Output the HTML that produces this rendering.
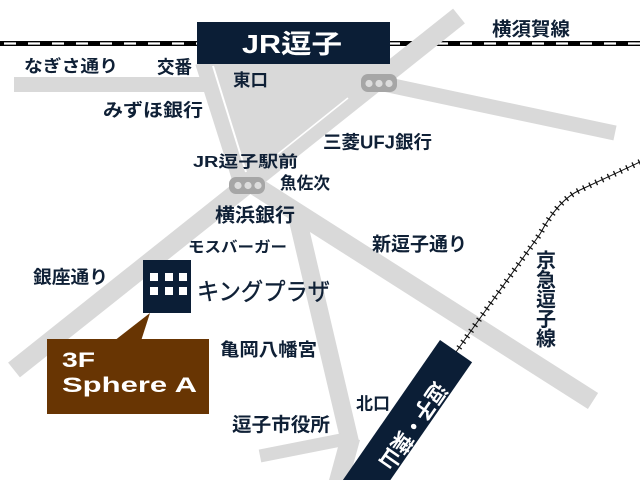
<!DOCTYPE html>
<html><head><meta charset="utf-8"><style>
html,body{margin:0;padding:0;background:#fff;width:640px;height:480px;overflow:hidden;}
svg{display:block;}
text{font-family:"Liberation Sans","Noto Sans CJK JP",sans-serif;}
.l{fill:#0f2036;font-weight:bold;}
</style></head><body>
<svg width="640" height="480" viewBox="0 0 640 480" xmlns="http://www.w3.org/2000/svg">
<defs><clipPath id="c"><rect width="640" height="480"/></clipPath></defs>
<g clip-path="url(#c)">
<rect width="640" height="480" fill="#fff"/>
<!-- JR rail -->
<line x1="0" y1="43.5" x2="640" y2="43.5" stroke="#000" stroke-width="5"/>
<line x1="0" y1="43.5" x2="640" y2="43.5" stroke="#fff" stroke-width="2.2" stroke-dasharray="12 12" stroke-dashoffset="-4"/>
<!-- roads -->
<g stroke="#d9d9d9" fill="none" stroke-linecap="butt">
<polygon points="205,64 404,64 250,190 236,185" fill="#d9d9d9" stroke="none"/>
<rect x="14" y="77" width="196" height="15" fill="#d9d9d9" stroke="none"/>
<line x1="204" y1="62" x2="244" y2="188" stroke-width="18"/>
<line x1="459" y1="16" x2="14" y2="370" stroke-width="19"/>
<line x1="379" y1="83" x2="615" y2="133" stroke-width="15"/>
<line x1="246" y1="180" x2="593" y2="401" stroke-width="19"/>
<line x1="296" y1="212" x2="350" y2="442" stroke-width="18"/>
<polygon points="341,436 360,440 349,480 329,480" fill="#d9d9d9" stroke="none"/>
<line x1="351" y1="438" x2="260" y2="456" stroke-width="13"/>
</g>
<line x1="213" y1="66" x2="246" y2="172" stroke="#fff" stroke-width="2"/>
<line x1="348" y1="98" x2="278" y2="154" stroke="#fff" stroke-width="1.6"/>
<!-- signals -->
<rect x="361" y="74" width="36" height="18" rx="7" fill="#a6a6a6"/>
<circle cx="369" cy="83.5" r="3.6" fill="#dcdcdc"/>
<circle cx="379" cy="83.5" r="3.6" fill="#dcdcdc"/>
<circle cx="389" cy="83.5" r="3.6" fill="#dcdcdc"/>
<rect x="229" y="177" width="36" height="17" rx="7" fill="#a6a6a6"/>
<circle cx="238" cy="185.5" r="3.6" fill="#dcdcdc"/>
<circle cx="248" cy="185.5" r="3.6" fill="#dcdcdc"/>
<circle cx="258" cy="185.5" r="3.6" fill="#dcdcdc"/>
<!-- Keikyu rail -->
<path d="M640,162 L580,190 Q558,200 540,234 L456,352" fill="none" stroke="#111" stroke-width="1"/>
<path d="M640,162 L580,190 Q558,200 540,234 L456,352" fill="none" stroke="#111" stroke-width="6" stroke-dasharray="1.3 5.5"/>
<!-- JR box -->
<rect x="197" y="22" width="193" height="42" fill="#0b1e36"/>
<text x="242" y="53" font-size="26" font-weight="bold" fill="#fff" textLength="100" lengthAdjust="spacingAndGlyphs">JR逗子</text>
<!-- Keikyu station box -->
<polygon points="440,340 472.1,362.2 390.4,480 342.9,480" fill="#0b1e36"/>
<text transform="translate(413,426) rotate(124.7)" text-anchor="middle" dominant-baseline="central" font-size="22" font-weight="bold" fill="#fff" textLength="100" lengthAdjust="spacingAndGlyphs">逗子・葉山</text>
<!-- building -->
<rect x="143" y="260" width="48" height="53" fill="#0b1e36"/>
<g fill="#fff">
<rect x="150" y="273" width="8" height="8"/><rect x="165" y="273" width="8" height="8"/><rect x="179" y="273" width="8" height="8"/>
<rect x="150" y="287" width="8" height="8"/><rect x="165" y="287" width="8" height="8"/><rect x="179" y="287" width="8" height="8"/>
</g>
<!-- callout -->
<polygon points="114,341 141,341 150,313" fill="#683503"/>
<rect x="47" y="339" width="162" height="75" fill="#683503"/>
<text x="62" y="367" font-size="21" font-weight="bold" fill="#fff" textLength="33" lengthAdjust="spacingAndGlyphs">3F</text>
<text x="62" y="392" font-size="21" font-weight="bold" fill="#fff" textLength="135" lengthAdjust="spacingAndGlyphs">Sphere A</text>
<!-- labels -->
<text class="l" x="24" y="72" font-size="17" textLength="94" lengthAdjust="spacingAndGlyphs">なぎさ通り</text>
<text class="l" x="157" y="73.5" font-size="18" textLength="35" lengthAdjust="spacingAndGlyphs">交番</text>
<text class="l" x="233" y="86" font-size="17" textLength="35" lengthAdjust="spacingAndGlyphs">東口</text>
<text class="l" x="103" y="116.5" font-size="18" textLength="100" lengthAdjust="spacingAndGlyphs">みずほ銀行</text>
<text class="l" x="492" y="35.5" font-size="19" textLength="78" lengthAdjust="spacingAndGlyphs">横須賀線</text>
<text class="l" x="323" y="148.5" font-size="18" textLength="109" lengthAdjust="spacingAndGlyphs">三菱UFJ銀行</text>
<text class="l" x="193" y="167" font-size="16" textLength="105" lengthAdjust="spacingAndGlyphs">JR逗子駅前</text>
<text class="l" x="280" y="189" font-size="17" textLength="50" lengthAdjust="spacingAndGlyphs">魚佐次</text>
<text class="l" x="215" y="221.5" font-size="19" textLength="80" lengthAdjust="spacingAndGlyphs">横浜銀行</text>
<text class="l" x="188" y="252" font-size="15" textLength="99" lengthAdjust="spacingAndGlyphs" font-weight="normal">モスバーガー</text>
<text class="l" x="33" y="283.5" font-size="18" textLength="75" lengthAdjust="spacingAndGlyphs">銀座通り</text>
<text x="197" y="300" font-size="24" fill="#0f2036" stroke="#0f2036" stroke-width="0.4" textLength="133" lengthAdjust="spacingAndGlyphs">キングプラザ</text>
<text class="l" x="220" y="356" font-size="18" textLength="97" lengthAdjust="spacingAndGlyphs">亀岡八幡宮</text>
<text class="l" x="232" y="431" font-size="19" textLength="98" lengthAdjust="spacingAndGlyphs">逗子市役所</text>
<text class="l" x="356" y="409.5" font-size="17" textLength="34" lengthAdjust="spacingAndGlyphs">北口</text>
<text class="l" x="372" y="250.5" font-size="19" textLength="95" lengthAdjust="spacingAndGlyphs">新逗子通り</text>
<g font-size="20" text-anchor="middle">
<text class="l" x="546" y="267.5">京</text>
<text class="l" x="546" y="287">急</text>
<text class="l" x="546" y="306.5">逗</text>
<text class="l" x="546" y="326">子</text>
<text class="l" x="546" y="345.5">線</text>
</g>
</g>
</svg>
</body></html>
